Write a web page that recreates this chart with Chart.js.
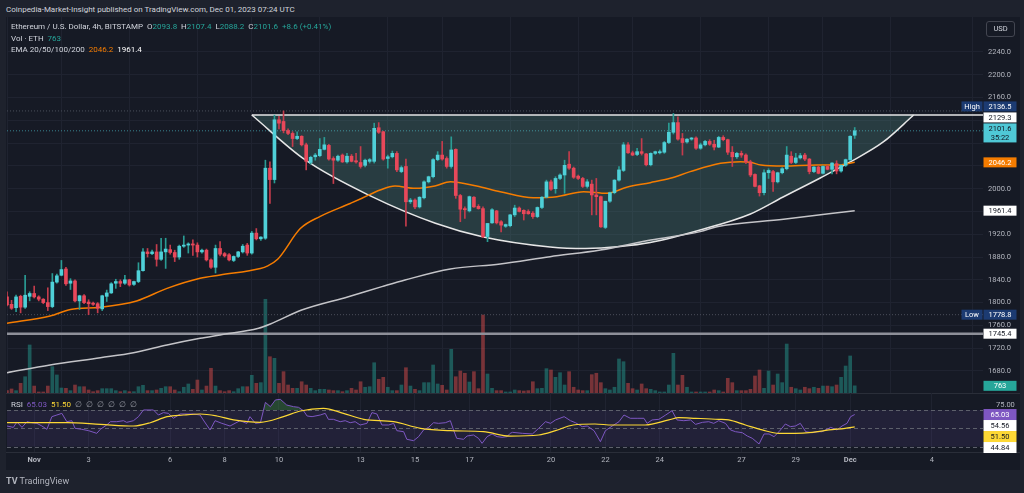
<!DOCTYPE html>
<html>
<head>
<meta charset="utf-8">
<script src="https://cdn.jsdelivr.net/npm/chart.js@4.4.1/dist/chart.umd.min.js"></script>
<style>
  body { margin: 0; width: 1024px; height: 493px; background: #1e222d; overflow: hidden; position: relative; font-family: Roboto, sans-serif; }
  #panel { position: absolute; left: 6px; top: 17px; width: 1014px; height: 453px; background: #161a25; }
  .sep { position: absolute; left: 6px; width: 1014px; height: 1px; background: #2a2e39; }
  canvas { position: absolute; left: 7px; }
  .txt { position: absolute; font-size: 8px; line-height: 11px; white-space: pre; color: #d1d4dc; }
  .g { color: #d1d4dc; } .t { color: #26a69a; } .o { color: #f57c00; } .w { color: #ffffff; }
  .p { color: #7e57c2; } .y { color: #fdd835; } .m { color: #9598a1; }
  #usd { position: absolute; left: 986px; top: 21px; width: 27px; height: 14px; border: 1px solid #434651; border-radius: 3px;
         color: #d1d4dc; font-size: 7.5px; line-height: 14px; text-align: center; }
</style>
</head>
<body>
<div class="txt" style="left:6px; top:4px;">Coinpedia-Market-Insight published on TradingView.com, Dec 01, 2023 07:24 UTC</div>
<div id="panel"></div>
<div class="sep" style="top:393px"></div>
<div class="sep" style="top:452px"></div>
<canvas id="priceChart" width="1013" height="376" style="top:17px"></canvas>
<canvas id="rsiChart" width="1013" height="77" style="top:393px"></canvas>
<div class="txt" style="left:11px; top:21px;"><span class="g">Ethereum / U.S. Dollar, 4h, BITSTAMP  O</span><span class="t">2093.8</span><span class="g">  H</span><span class="t">2107.4</span><span class="g">  L</span><span class="t">2088.2</span><span class="g">  C</span><span class="t">2101.6  +8.6 (+0.41%)</span></div>
<div class="txt" style="left:11px; top:32.5px;"><span class="g">Vol · ETH  </span><span class="t">763</span></div>
<div class="txt" style="left:11px; top:44px;"><span class="g">EMA 20/50/100/200  </span><span class="o">2046.2</span>  <span class="w">1961.4</span></div>
<div class="txt" style="left:11px; top:399px;"><span class="g">RSI  </span><span class="p">65.03</span>  <span class="y">51.50</span><span class="m">  ∅  ∅  ∅  ∅  ∅  ∅</span></div>
<div id="usd">USD</div>
<div class="txt" style="left:6px; top:476px; font-size:9px; color:#b2b5be;"><b>TV</b> TradingView</div>
<script>
// 4h candles, index 0 = Oct 31 00:00 UTC, last = Dec 01 04:00
const opens = [
1810,1797,1791,1811,1792,1811,1816,1810,1806,1800,
1793,1836,1848,1859,1834,1838,1803,1812,1801,1799,
1798,1789,1811,1817,1834,1837,1834,1840,1832,1837,
1856,1889,1886,1889,1876,1889,1893,1888,1880,1899,
1901,1903,1901,1889,1892,1875,1862,1895,1886,1884,
1874,1881,1889,1901,1887,1922,1912,1913,2036,2016,
2121,2118,2102,2097,2088,2092,2077,2046,2056,2058,
2069,2076,2053,2050,2059,2047,2057,2049,2046,2041,
2048,2048,2107,2100,2053,2056,2062,2030,2039,1977,
1980,1968,1984,2012,2021,2051,2059,2053,2039,2069,
1988,1965,1961,1985,1969,1965,1916,1940,1961,1942,
1934,1935,1954,1966,1962,1960,1957,1951,1967,1985,
2012,2000,2018,2024,2043,2036,2022,2018,2004,2008,
1989,1986,1932,1978,1993,2015,2032,2077,2063,2060,
2065,2061,2042,2062,2063,2064,2081,2099,2116,2088,
2082,2087,2089,2071,2077,2083,2078,2073,2090,2086,
2064,2056,2062,2059,2047,2025,2005,1993,2028,2030,
2012,2028,2035,2057,2046,2054,2059,2052,2030,2038,
2027,2039,2034,2044,2031,2041,2051,2093.8];
const highs = [
1819,1804,1813,1813,1848,1819,1829,1812,1807,1826,
1851,1850,1874,1862,1842,1840,1813,1814,1805,1801,
1800,1813,1822,1835,1841,1840,1848,1841,1838,1870,
1895,1895,1892,1902,1913,1913,1901,1892,1901,1917,
1905,1910,1905,1894,1894,1877,1901,1907,1888,1886,
1882,1890,1902,1904,1925,1930,1916,2050,2047,2129,
2127,2136.5,2105,2100,2100,2093,2080,2057,2062,2088,
2090,2078,2056,2059,2061,2062,2060,2062,2074,2052,
2053,2115,2116,2101,2059,2066,2065,2040,2052,1983,
1982,1986,2014,2022,2053,2065,2083,2056,2091,2070,
1990,1968,1987,1986,1972,1968,1939,1965,1962,1944,
1938,1955,1971,1968,1963,1963,1960,1968,1986,2015,
2015,2021,2026,2050,2065,2038,2024,2020,2016,2015,
2018,1987,1978,1994,2016,2039,2081,2081,2066,2071,
2088,2062,2063,2066,2068,2083,2115,2132,2126,2097,
2088,2090,2091,2080,2085,2086,2085,2092,2093,2087,
2074,2064,2066,2061,2050,2026,2006,2033,2035,2032,
2029,2037,2074,2065,2062,2062,2062,2053,2039,2040,
2040,2041,2046,2049,2042,2052,2093,2107.4];
const lows = [
1794,1788,1784,1782,1790,1803,1808,1803,1798,1786,
1791,1834,1847,1830,1823,1801,1788,1798,1778.8,1795,
1782,1786,1802,1816,1825,1828,1832,1829,1830,1835,
1855,1880,1884,1864,1874,1860,1885,1872,1876,1897,
1887,1883,1880,1887,1873,1860,1852,1882,1880,1873,
1872,1879,1887,1883,1885,1910,1909,1911,1974,2010,
2105,2098,2095,2074,2086,2075,2033,2043,2050,2056,
2068,2050,2009,2048,2046,2045,2047,2045,2036,2038,
2045,2045,2097,2050,2036,2054,2030,2028,1934,1974,
1965,1966,1982,2010,2019,2049,2050,2036,2036,1983,
1942,1948,1959,1967,1964,1914,1907,1939,1938,1924,
1932,1933,1951,1959,1945,1955,1948,1949,1965,1984,
1997,1992,2016,1992,2034,2018,2016,2002,2001,1954,
1954,1932,1930,1976,1991,2013,2030,2062,2058,2058,
2059,2040,2040,2060,2061,2062,2079,2096,2085,2059,
2080,2085,2069,2069,2075,2076,2068,2072,2084,2060,
2039,2053,2055,2044,2021,2003,1987,1989,2018,1995,
2010,2026,2033,2044,2044,2052,2049,2026,2028,2026,
2026,2033,2026,2026,2029,2039,2049,2088.2];
const closes = [
1796,1790,1810,1792,1813,1816,1810,1806,1800,1793,
1836,1847,1858,1833,1838,1803,1812,1800,1798,1797,
1790,1812,1817,1833,1837,1834,1840,1831,1837,1856,
1889,1886,1889,1876,1889,1894,1888,1880,1899,1901,
1903,1901,1889,1892,1875,1862,1895,1885,1882,1875,
1881,1889,1899,1887,1922,1912,1915,2036,2016,2121,
2115,2102,2097,2088,2092,2077,2048,2055,2059,2069,
2077,2052,2050,2057,2047,2057,2048,2047,2039,2050,
2051,2106,2099,2052,2056,2062,2033,2037,1977,1980,
1968,1985,2012,2021,2051,2059,2052,2039,2068,1988,
1964,1963,1986,1968,1965,1916,1939,1963,1940,1936,
1937,1954,1966,1960,1956,1956,1951,1967,1985,2012,
1999,2018,2024,2041,2036,2020,2018,2004,2012,1989,
1986,1933,1978,1993,2015,2033,2077,2063,2059,2065,
2062,2042,2062,2065,2065,2081,2099,2116,2087,2081,
2087,2089,2071,2077,2083,2078,2073,2090,2086,2064,
2056,2062,2059,2047,2024,2004,1993,2028,2032,2012,
2028,2035,2059,2046,2054,2058,2052,2030,2038,2027,
2039,2034,2045,2031,2041,2051,2092,2101.6];
const volumes = [
250,430,250,1030,1730,5110,740,110,110,740,
2800,1920,530,500,250,850,670,670,320,140,
250,460,460,460,250,140,250,140,140,670,
820,250,250,320,500,670,670,320,140,610,
960,390,1380,320,740,2630,740,250,140,250,
140,460,670,670,1880,1030,1100,9970,3860,3690,
1030,2270,850,500,500,1200,850,500,250,390,
390,320,250,250,140,250,500,320,1200,610,
670,3220,1460,1670,610,250,250,850,2690,740,
390,250,1100,1100,2980,960,820,320,4650,1730,
2340,2100,1170,2270,460,8300,2020,500,250,250,
110,110,320,250,210,250,1200,460,500,2590,
2450,1670,2160,850,2270,610,320,250,250,1950,
2100,1100,460,320,610,3620,3330,1030,460,320,
960,460,390,250,110,110,850,4220,850,1880,
610,110,110,110,110,110,320,250,110,1560,
1100,250,250,250,390,1810,2450,500,2340,850,
2020,1100,5210,610,460,320,610,460,610,500,
740,740,670,850,1670,2870,3940,763];

// EMA 50 / EMA 200: [candle index, price]
const ema50 = [[0,1763.7],[9.5,1776.5],[14,1788],[20.6,1791.8],[28.6,1802.9],[35.3,1825],[42.6,1842.7],[47,1848.5],
  [55.9,1860],[57.4,1864],[59.7,1876],[64.7,1930],[69,1951],[75.7,1974],[78.3,1983.1],[82.3,1997.7],[85.6,2004.7],
  [90,2000.6],[94.4,2004.7],[97.8,2012.3],[103.6,2004.7],[108.8,1994.8],[116.1,1984.2],[121.3,1986],[127.2,1994.8],
  [132.3,1991.8],[136.7,2002.4],[141.9,2010.6],[146.3,2018.2],[150.7,2029.9],[157.4,2044.5],[161.8,2047.4],[164,2046.3],
  [166.3,2041.6],[171.3,2039.8],[178.6,2041.6],[183,2041.6],[187,2046.2]];
const ema200 = [[0,1677],[9.5,1690.5],[20.6,1703.3],[27.9,1712.1],[35.3,1725.6],[42.6,1737.3],[47,1743.2],[55.5,1754.9],
  [58.1,1762.4],[65,1787],[75.3,1810.4],[82.7,1828],[87.8,1839.7],[97.8,1859],[108.8,1867.8],[119.8,1880.7],
  [130.9,1892.4],[142,1909.9],[152.9,1924.6],[156.6,1933.3],[171.3,1946.2],[187,1961.4]];

// cup drawing
const cupCurve = [[54,2129.3],[65.8,2050.4],[80.5,1986],[94.5,1939.3],[105.1,1915.2],[119.8,1897.7],[127.6,1895],
  [135.3,1898.5],[141.9,1905.5],[152.9,1927.5],[164,1955.6],[171.2,1985.4],[179.4,2018.8],[186,2046.9],[193.3,2082],[200,2129.3]];
const cupTop = [[54,2129.3],[215.3,2129.3]];

const rsiLine = [[0,52.5],[1.4,51],[2.2,56.9],[3.3,51],[4.4,57.2],[5.5,56.1],[6.6,55.4],[7.7,52.5],[8.8,48.9],[9.9,62.7],
  [11,64.5],[12.1,66.3],[13.2,57.2],[14.3,58.3],[15,50],[16.5,48.9],[18,47.4],[19.8,44.5],[20.6,48.9],[22,53.6],[22.8,57.2],
  [24.2,57.2],[25.7,58.3],[26.4,56.5],[27.9,58.3],[29,62.7],[30.1,70],[32.3,70],[33.4,64.5],[34.5,67.1],[35.6,66.3],
  [36.7,60.9],[38.2,65.6],[41.1,65.6],[42.6,64.5],[43.3,59.1],[44.8,48.2],[45.9,58.3],[47.4,55.4],[49.2,52.5],[50.3,55.4],
  [51.4,58.3],[52.9,55.4],[53.6,62.7],[54.8,55.4],[55.9,56.1],[57,78.3],[58.1,73.6],[59.2,80.9],[60.3,81.6],[61.7,75.4],
  [63.2,73.6],[64.3,72.9],[65.4,69.2],[66.2,63.4],[67.3,62.7],[69.1,64.5],[70.2,66.3],[70.9,59.8],[72,59.8],[73.5,57.2],
  [74.6,58.3],[75.7,56.1],[76.8,57.2],[77.9,53.6],[79.4,55.4],[80.5,67.1],[81.6,65.6],[82.7,53.6],[84.2,53.6],[85.3,55.4],
  [86,47.4],[87.5,46.3],[88.2,38],[89.7,36.5],[90.8,40.9],[91.9,48.2],[93,51],[94.1,56.1],[95.2,55.4],[96.7,56.1],
  [97.8,58.3],[98.5,48.2],[99.2,39.1],[100.7,38],[101.5,41.6],[102.9,42.7],[104,39.1],[104.8,33.6],[105.9,40.9],[107,43.8],
  [108.1,40.9],[109.2,40.2],[110.3,40.9],[111,44.5],[111.5,45.6],[113.7,44.5],[115.9,43.8],[117.3,50],[118.8,57.2],
  [119.9,55.4],[121,59.1],[122.9,62.7],[124.3,58.3],[125.4,56.1],[126.9,51.8],[128,52.5],[129.5,47.4],[130.9,35.4],
  [132,47.4],[133.5,52.5],[135,57.2],[136.1,64.5],[137.5,60.9],[139,60.9],[140.5,60.9],[141.2,55.4],[142.3,59.1],
  [143.8,59.8],[145.3,64.5],[146.7,69.2],[147.8,59.1],[149.3,58.3],[150.8,59.1],[151.9,54.3],[153.4,56.5],[154.8,57.2],
  [155.9,55.4],[157,58.3],[158.5,55.4],[159.6,48.2],[160.7,46.3],[162.2,45.2],[163.3,41.6],[164.4,39.1],[165.9,32.9],
  [167,43.8],[168.1,43.8],[169.2,40.9],[170.3,46.3],[171.7,54.7],[172.8,51.8],[173.9,52.5],[175,55.4],[176.2,46.3],
  [177.6,45.2],[178.7,46.3],[179.8,46.3],[181.7,51],[183.1,48.2],[184.2,52.5],[185.3,55.4],[186.1,62.7],[187,65.03]];
const rsiMa = [[0,56.1],[6.9,56.1],[13.2,56.1],[20.6,54.3],[27.9,52.5],[31.6,56.1],[35.3,62.7],[38.9,64.5],[42.6,65.6],
  [46.3,63.4],[50,59.1],[55.9,56.5],[61,62.7],[64.7,68.9],[69.8,71.8],[74.2,66.3],[78.7,59.8],[85.3,57.2],[91.2,50],
  [97.8,47.4],[105.1,46.3],[111,41.5],[117.3,42.7],[121,47.4],[124.9,53.6],[129.7,54.7],[133.5,53.6],[140.8,53.6],
  [146,59.1],[148.2,61.6],[151.9,60.9],[157,59.8],[159.2,59.1],[162.9,53.6],[166.6,48.2],[170.3,44.5],[173.9,44.5],
  [177.6,45.6],[181.3,48.2],[184.9,50],[187,51.5]];

const dayTicks = [6,18,36,48,60,78,90,102,120,132,144,162,174,186,204];
const dayLabels = ['Nov','3','6','8','10','13','15','17','20','22','24','27','29','Dec','4'];
const priceTicks = [1680,1720,1760,1800,1840,1880,1920,1960,2000,2040,2080,2120,2160,2200,2240];

const priceTags = [
  { value: 2136.5, text: '2136.5', tag: 'High', bg: '#1c3b72', fg: '#ffffff' },
  { value: 2129.3, text: '2129.3', bg: '#ffffff', fg: '#131722' },
  { value: 2101.6, text: '2101.6', sub: '35:22', bg: '#4fc8d6', fg: '#131722' },
  { value: 2046.2, text: '2046.2', bg: '#f57c00', fg: '#ffffff' },
  { value: 1961.4, text: '1961.4', bg: '#ffffff', fg: '#131722' },
  { value: 1778.8, text: '1778.8', tag: 'Low', bg: '#1c3b72', fg: '#ffffff' },
  { value: 1745.4, text: '1745.4', bg: '#ffffff', fg: '#131722' },
  { value: 763, axis: 'yv', text: '763', bg: '#26a69a', fg: '#ffffff' }
];
const rsiTags = [
  { value: 65.03, text: '65.03', bg: '#7e57c2', fg: '#ffffff' },
  { value: 54.56, text: '54.56', bg: '#ffffff', fg: '#131722' },
  { value: 51.50, text: '51.50', bg: '#fdd835', fg: '#131722' },
  { value: 44.84, text: '44.84', bg: '#ffffff', fg: '#131722' }
];

const X_MIN = 0, X_MAX = 215.3;
const GRID = '#1f2330';
const FONT = { family: 'Roboto', size: 7.5 };
const pts = arr => arr.map(([x, y]) => ({ x, y }));
const up = opens.map((o, i) => closes[i] >= o);

// axis price tags: positions come from the scales, then overlapping boxes are moved apart
const tagPlugin = {
  id: 'axisTags',
  beforeDraw(chart, args, opts) {
    const items = opts.tags.map(t => ({
      ...t, h: t.sub ? 19 : opts.h,
      y: chart.scales[t.axis || 'y'].getPixelForValue(t.value)
    })).sort((a, b) => a.y - b.y);
    if (opts.mode === 'down') {
      for (let k = 1; k < items.length; k++) {
        const p = items[k - 1], q = items[k];
        const minY = p.y + p.h / 2 + q.h / 2;
        if (q.y < minY) q.y = minY;
      }
    } else {
      for (let n = 0; n < 40; n++) {
        for (let k = 1; k < items.length; k++) {
          const p = items[k - 1], q = items[k];
          const gap = p.h / 2 + q.h / 2 + 1 - (q.y - p.y);
          if (gap > 0) { p.y -= gap / 2; q.y += gap / 2; }
        }
      }
    }
    chart.$tags = items;
  },
  afterDraw(chart) {
    const { ctx, chartArea } = chart;
    ctx.save();
    ctx.font = '7.5px Roboto';
    ctx.textAlign = 'center';
    ctx.textBaseline = 'middle';
    const x0 = chartArea.right + 0.5, w = 33;
    chart.$tags.forEach(t => {
      ctx.fillStyle = t.bg;
      ctx.fillRect(x0, t.y - t.h / 2, w, t.h);
      ctx.fillStyle = t.fg;
      if (t.sub) {
        ctx.fillText(t.text, x0 + w / 2, t.y - 4);
        ctx.fillText(t.sub, x0 + w / 2, t.y + 5);
      } else {
        ctx.fillText(t.text, x0 + w / 2, t.y + 0.5);
      }
      if (t.tag) {
        ctx.fillStyle = t.bg;
        ctx.fillRect(x0 - 22, t.y - t.h / 2, 21, t.h);
        ctx.fillStyle = t.fg;
        ctx.fillText(t.tag, x0 - 11.5, t.y + 0.5);
      }
    });
    ctx.restore();
  }
};

const rsiBand = {
  id: 'rsiBand',
  beforeDatasetsDraw(chart) {
    const { ctx, chartArea: a, scales: { y } } = chart;
    const y70 = y.getPixelForValue(70), y30 = y.getPixelForValue(30), y50 = y.getPixelForValue(50);
    ctx.save();
    ctx.fillStyle = 'rgba(126,87,194,0.12)';
    ctx.fillRect(a.left, y70, a.right - a.left, y30 - y70);
    ctx.strokeStyle = '#5d606b';
    ctx.setLineDash([4, 3]);
    ctx.lineWidth = 1;
    [y70, y50, y30].forEach(v => {
      ctx.beginPath();
      ctx.moveTo(a.left, Math.round(v) + 0.5);
      ctx.lineTo(a.right, Math.round(v) + 0.5);
      ctx.stroke();
    });
    ctx.restore();
  }
};

// hide a price tick label when a tag box sits on top of it
function tickColor(ctx) {
  const chart = ctx.chart;
  const py = chart.scales.y.getPixelForValue(ctx.tick.value);
  const hit = (chart.$tags || []).some(t => Math.abs(t.y - py) < t.h / 2 + 3);
  return hit ? 'rgba(0,0,0,0)' : '#b2b5be';
}

const hLine = (data, color, width, dash, order) => ({
  type: 'line', data: pts(data), borderColor: color, borderWidth: width, borderDash: dash,
  pointRadius: 0, fill: false, order
});

new Chart(document.getElementById('priceChart'), {
  type: 'bar',
  data: {
    datasets: [
      {
        type: 'line', data: pts(cupCurve), borderColor: '#e6e6e6', borderWidth: 1.5, pointRadius: 0,
        cubicInterpolationMode: 'monotone', fill: { value: 2129.3 }, backgroundColor: 'rgba(80,130,125,0.33)', order: 10
      },
      {
        type: 'bar', yAxisID: 'yv', data: volumes.map((v, i) => ({ x: i, y: v })),
        backgroundColor: up.map(u => u ? 'rgba(38,166,154,0.45)' : 'rgba(239,83,80,0.45)'),
        barThickness: 3, grouped: false, order: 9
      },
      hLine([[X_MIN, 2136.5], [X_MAX, 2136.5]], '#4a4e5a', 1, [1, 2], 8),
      hLine([[X_MIN, 1778.8], [X_MAX, 1778.8]], '#4a4e5a', 1, [1, 2], 8),
      hLine([[X_MIN, 2101.6], [X_MAX, 2101.6]], 'rgba(79,200,214,0.6)', 1, [1, 2], 8),
      hLine([[X_MIN, 1745.4], [X_MAX, 1745.4]], '#8e9099', 2.5, [], 8),
      hLine(cupTop, '#e6e6e6', 1.5, [], 7),
      {
        type: 'line', data: pts(ema200), borderColor: '#c4c4c8', borderWidth: 1.5, pointRadius: 0,
        cubicInterpolationMode: 'monotone', fill: false, order: 5
      },
      {
        type: 'line', data: pts(ema50), borderColor: '#f57c00', borderWidth: 1.5, pointRadius: 0,
        cubicInterpolationMode: 'monotone', fill: false, order: 4
      },
      {
        type: 'bar', data: opens.map((o, i) => ({ x: i, y: [lows[i], highs[i]] })),
        backgroundColor: up.map(u => u ? '#2a9c94' : '#c43c4c'),
        barThickness: 1, grouped: false, order: 2
      },
      {
        type: 'bar', data: opens.map((o, i) => ({ x: i, y: [o, closes[i]] })),
        backgroundColor: up.map(u => u ? '#4fd0d8' : '#e8485a'),
        barThickness: 3, minBarLength: 1, grouped: false, order: 1
      }
    ]
  },
  options: {
    responsive: false,
    animation: false,
    devicePixelRatio: 1,
    layout: { padding: 0 },
    plugins: {
      legend: { display: false },
      tooltip: { enabled: false },
      axisTags: { tags: priceTags, mode: 'spread', h: 10 }
    },
    scales: {
      x: {
        type: 'linear', min: X_MIN, max: X_MAX, offset: false,
        grid: { color: GRID, drawTicks: false },
        border: { display: false },
        ticks: { display: false },
        afterBuildTicks: s => { s.ticks = dayTicks.map(v => ({ value: v })); },
        afterFit: s => { s.height = 0; s.paddingLeft = 0; s.paddingRight = 0; }
      },
      y: {
        position: 'right', min: 1641.3, max: 2301.4,
        grid: { color: GRID, drawTicks: false },
        border: { display: false },
        ticks: { font: FONT, color: tickColor, padding: 5, callback: v => v.toFixed(1) },
        afterBuildTicks: s => { s.ticks = priceTicks.map(v => ({ value: v })); },
        afterFit: s => { s.width = 37; s.paddingTop = 0; s.paddingBottom = 0; }
      },
      yv: {
        position: 'right', display: false, min: 0, max: 40000
      }
    }
  },
  plugins: [tagPlugin]
});

new Chart(document.getElementById('rsiChart'), {
  type: 'line',
  data: {
    datasets: [
      {
        data: pts(rsiLine), borderColor: '#7e57c2', borderWidth: 1, pointRadius: 0, tension: 0,
        fill: { target: { value: 70 }, above: 'rgba(76,175,80,0.3)', below: 'rgba(0,0,0,0)' }, order: 2
      },
      {
        data: pts(rsiMa), borderColor: '#fdd835', borderWidth: 1.2, pointRadius: 0,
        cubicInterpolationMode: 'monotone', fill: false, order: 1
      }
    ]
  },
  options: {
    responsive: false,
    animation: false,
    devicePixelRatio: 1,
    layout: { padding: 0 },
    plugins: {
      legend: { display: false },
      tooltip: { enabled: false },
      axisTags: { tags: rsiTags, mode: 'down', h: 11 }
    },
    scales: {
      x: {
        type: 'linear', min: X_MIN, max: X_MAX, offset: false,
        grid: { color: GRID, drawTicks: false },
        border: { display: false },
        ticks: {
          autoSkip: false, maxRotation: 0, padding: 4, color: '#b2b5be',
          font: ctx => ({ family: 'Roboto', size: 7.5, weight: (dayLabels[ctx.index] || '').length === 3 ? 'bold' : 'normal' }),
          callback: (v, i) => dayLabels[i]
        },
        afterBuildTicks: s => { s.ticks = dayTicks.map(v => ({ value: v })); },
        afterFit: s => { s.height = 18; s.paddingLeft = 0; s.paddingRight = 0; }
      },
      y: {
        position: 'right', min: 24.15, max: 88.5,
        grid: { display: false },
        border: { display: false },
        ticks: { font: FONT, color: '#b2b5be', padding: 5, callback: v => v.toFixed(2) },
        afterBuildTicks: s => { s.ticks = [{ value: 75 }]; },
        afterFit: s => { s.width = 37; s.paddingTop = 0; s.paddingBottom = 0; }
      }
    }
  },
  plugins: [tagPlugin, rsiBand]
});
</script>
</body>
</html>
